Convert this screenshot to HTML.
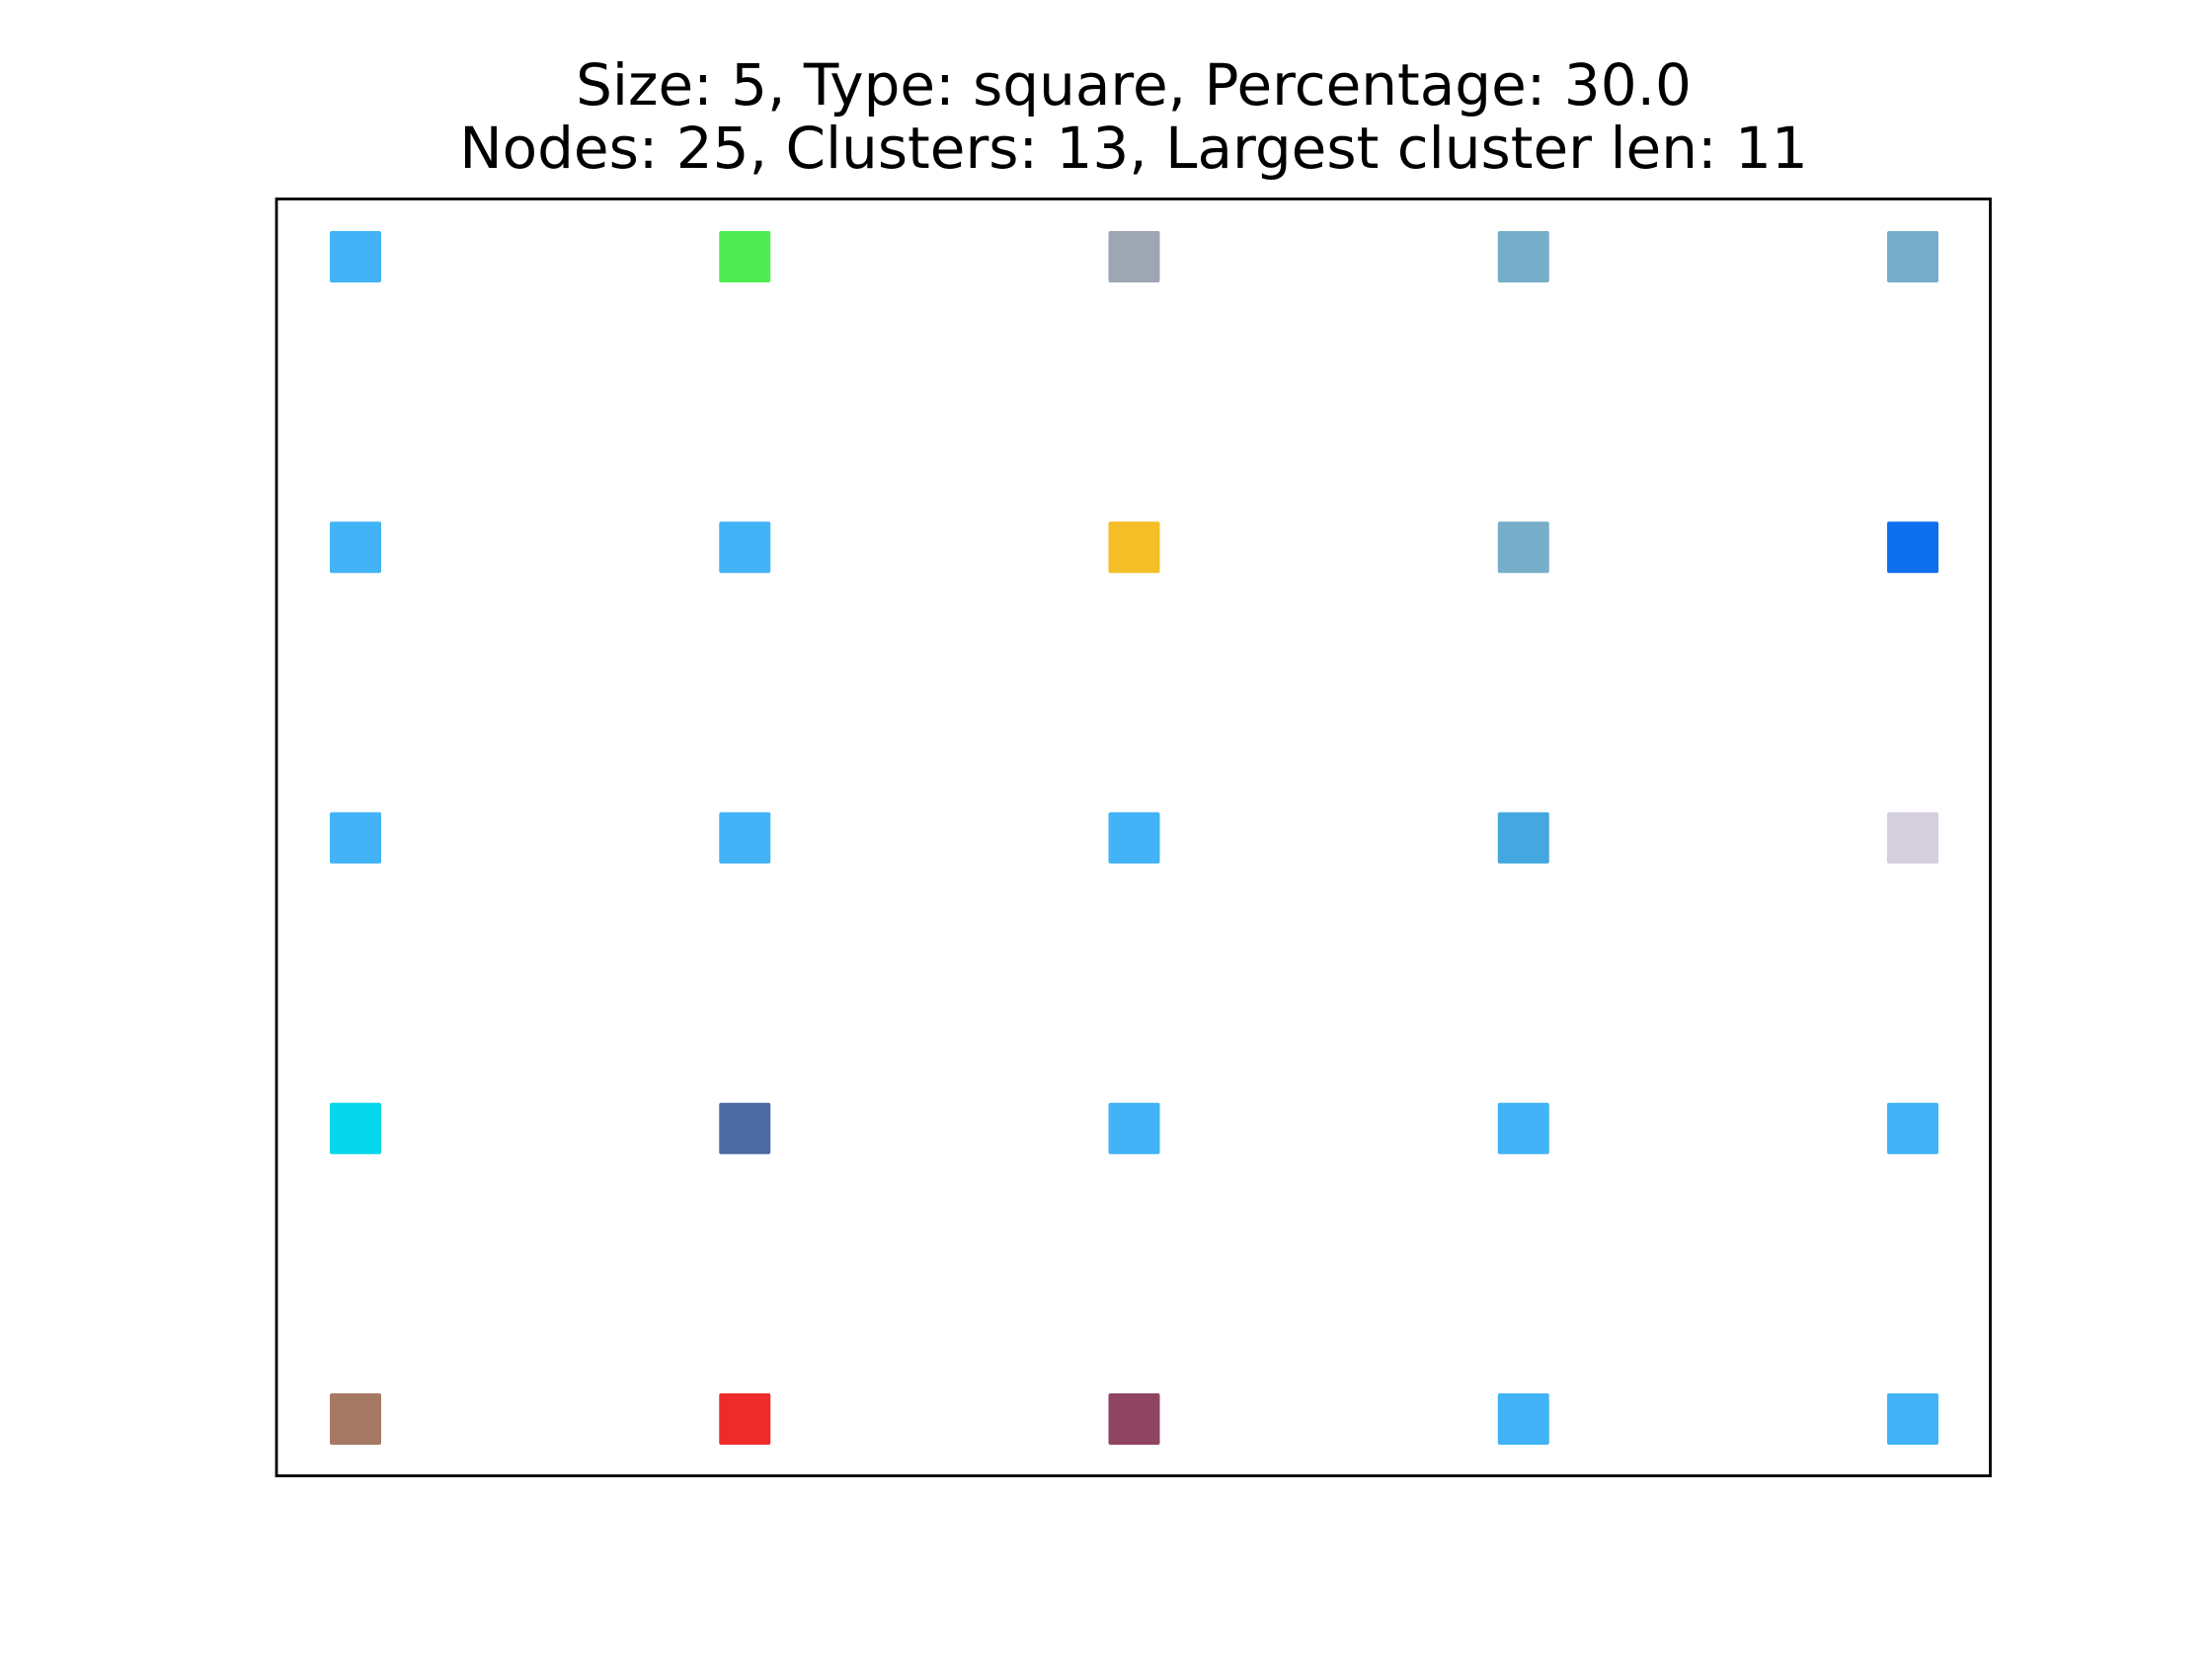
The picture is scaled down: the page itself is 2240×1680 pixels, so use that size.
<!DOCTYPE html>
<html><head><meta charset="utf-8"><style>
html,body{margin:0;padding:0;background:#fff;}
svg{display:block;}
</style></head><body>
<svg id="chart" width="2240" height="1680" xmlns="http://www.w3.org/2000/svg">
<rect width="2240" height="1680" fill="#fff"/>
<text x="1148" y="106" text-anchor="middle" font-family="DejaVu Sans, Liberation Sans, sans-serif" font-size="58" fill="#000">Size: 5, Type: square, Percentage: 30.0</text>
<text x="1148" y="170" text-anchor="middle" font-family="DejaVu Sans, Liberation Sans, sans-serif" font-size="58" fill="#000">Nodes: 25, Clusters: 13, Largest cluster len: 11</text>
<rect x="280" y="201.5" width="1735.5" height="1293" fill="none" stroke="#000" stroke-width="2.8"/>
<g id="nodes"></g>
</svg>
<script>
const cols = [0, 1, 2, 3, 4];
const rows = [0, 1, 2, 3, 4];
const nodeColors = [
  ["#42b3f6", "#4fec54", "#9ea6b3", "#76aeca", "#76aeca"],
  ["#42b3f6", "#42b3f6", "#f4be26", "#76aeca", "#0e6fef"],
  ["#42b3f6", "#42b3f6", "#42b3f6", "#45a7df", "#d5cedd"],
  ["#07d7ea", "#4d6aa4", "#42b3f6", "#42b3f6", "#42b3f6"],
  ["#a57864", "#ee2a2a", "#8f4462", "#42b3f6", "#42b3f6"]
];
const x = c => 360 + c * 394.25;
const y = r => 260 + r * 294.25;
const g = document.getElementById('nodes');
const s = 52;
rows.forEach(r => cols.forEach(c => {
  const el = document.createElementNS('http://www.w3.org/2000/svg', 'rect');
  el.setAttribute('x', x(c) - s / 2);
  el.setAttribute('y', y(r) - s / 2);
  el.setAttribute('width', s);
  el.setAttribute('height', s);
  el.setAttribute('rx', 2);
  el.setAttribute('fill', nodeColors[r][c]);
  
  
  g.appendChild(el);
}));
</script>
</body></html>
